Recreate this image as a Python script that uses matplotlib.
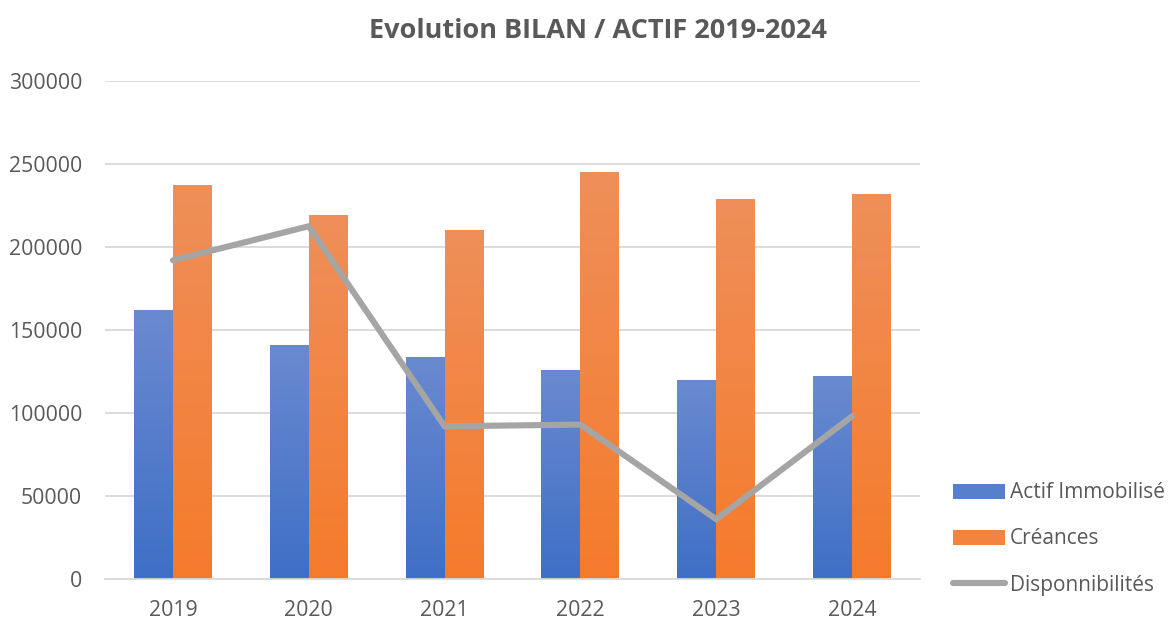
import numpy as np
import matplotlib
matplotlib.use('Agg')
import matplotlib.pyplot as plt
from matplotlib.colors import LinearSegmentedColormap
from matplotlib.patches import Patch
from matplotlib.lines import Line2D

# Données
annees = ['2019', '2020', '2021', '2022', '2023', '2024']
actif_immobilise = [162000, 141000, 134000, 126000, 120000, 122000]
creances = [237500, 219500, 210500, 245000, 229000, 232000]
disponibilites = [192000, 212500, 92000, 93000, 36000, 98000]

titre = 'Evolution BILAN / ACTIF 2019-2024'
noms_series = ['Actif Immobilisé', 'Créances', 'Disponnibilités']

TEXTE = '#595959'
GRILLE = '#d9d9d9'

# dégradés des barres (haut plus clair, bas plus foncé)
bleu = LinearSegmentedColormap.from_list('bleu', ['#3f6fc6', '#6a8ad0'])
orange = LinearSegmentedColormap.from_list('orange', ['#f57b2b', '#ef8f5a'])

plt.rcParams['font.family'] = ['Open Sans', 'DejaVu Sans']


def barres_degrade(ax, x, hauteurs, largeur, cmap):
    barres = ax.bar(x, hauteurs, largeur, color='none', edgecolor='none', zorder=2)
    grad = np.linspace(0, 1, 256).reshape(-1, 1)
    for b in barres:
        x0, y0 = b.get_x(), b.get_y()
        w, h = b.get_width(), b.get_height()
        im = ax.imshow(grad, cmap=cmap, aspect='auto', origin='lower',
                       extent=(x0, x0 + w, y0, y0 + h), zorder=2)
        im.set_clip_path(b)
    return barres


def main():
    fig = plt.figure(figsize=(11.7, 6.21), dpi=100)
    ax = fig.add_axes([105 / 1170, 42 / 621, 815 / 1170, 498 / 621])

    x = np.arange(len(annees))
    w = 0.287
    barres_degrade(ax, x - w / 2, actif_immobilise, w, bleu)
    barres_degrade(ax, x + w / 2, creances, w, orange)
    ax.plot(x, disponibilites, color='#a5a5a5', lw=4.4,
            solid_capstyle='round', solid_joinstyle='miter', zorder=3)

    ax.set_xlim(-0.5, len(annees) - 0.5)
    ax.set_ylim(0, 300000)
    ax.set_yticks(np.arange(0, 300001, 50000))
    ax.set_xticks(x)
    ax.set_xticklabels(annees)
    ax.yaxis.grid(True, color=GRILLE, lw=1.3, zorder=0)
    ax.set_axisbelow(True)
    for s in ['top', 'right', 'left']:
        ax.spines[s].set_visible(False)
    ax.spines['bottom'].set_color(GRILLE)
    ax.spines['bottom'].set_linewidth(1.3)
    ax.tick_params(length=0, labelsize=15.3, labelcolor=TEXTE)
    ax.tick_params(axis='y', pad=16.5)
    ax.tick_params(axis='x', pad=15)

    fig.text(598 / 1170, 1 - 31 / 621, titre, ha='center', va='center',
             fontsize=19.5, fontweight='bold', color=TEXTE)

    poignees = [Patch(facecolor='#5680cb', edgecolor='none'),
                Patch(facecolor='#f2843f', edgecolor='none'),
                Line2D([0], [0], color='#a5a5a5', lw=4.4, solid_capstyle='round')]
    fig.legend(poignees, noms_series, loc='center left',
               bbox_to_anchor=(934 / 1170, 1 - 539 / 621), frameon=False,
               fontsize=15, labelcolor=TEXTE, handlelength=2.5, handleheight=0.7,
               handletextpad=0.25, labelspacing=1.2)

    fig.savefig('out.png', dpi=100)


if __name__ == '__main__':
    main()
